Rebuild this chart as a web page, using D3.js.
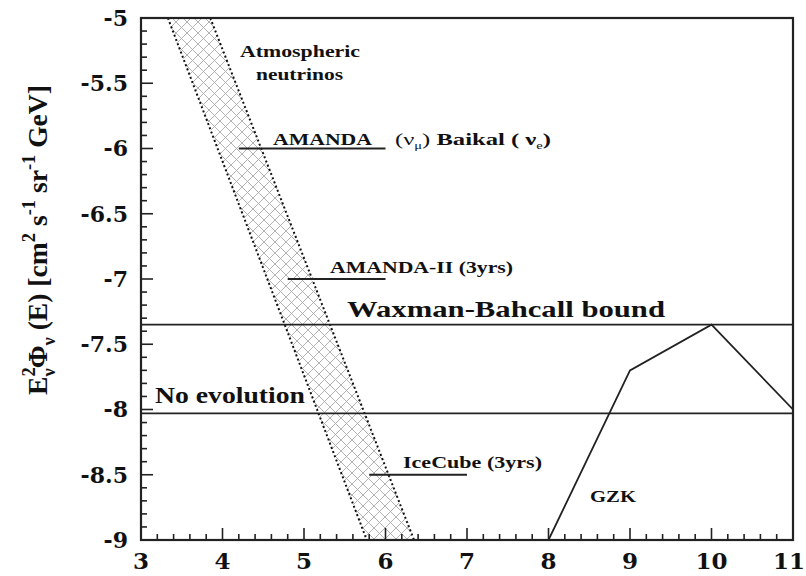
<!DOCTYPE html>
<html><head><meta charset="utf-8">
<script src="https://cdn.jsdelivr.net/npm/d3@7"></script>
<style>body{margin:0;background:#fff}svg{display:block}</style>
</head><body>
<script>
const xTicks = [3,4,5,6,7,8,9,10,11];
const yTicks = [-5,-5.5,-6,-6.5,-7,-7.5,-8,-8.5,-9];
// Atmospheric neutrino band edges [x, y]
const bandLeft = [[3.33,-5],[5.77,-9]];
const bandRight = [[3.85,-5],[6.35,-9]];
// horizontal experimental limits
const limitNames = ["AMANDA", "AMANDA-II (3yrs)", "IceCube (3yrs)"];
const limitX1 = [4.2, 4.8, 5.8];
const limitX2 = [6.0, 6.0, 7.0];
const limitY = [-6, -7, -8.5];
const wbBound = -7.35;
const noEvolution = -8.03;
const gzkX = [8, 9, 10, 11];
const gzkY = [-9, -7.7, -7.35, -8];

const SERIF = "'Liberation Serif','Times New Roman',serif";
const TICKFONT = "'DejaVu Serif',serif";
const W=806,H=576;
const m={l:141,r:13,t:18,b:36};
const svg=d3.select("body").append("svg").attr("width",W).attr("height",H)
  .attr("font-family",SERIF).attr("font-weight","bold");
const x=d3.scaleLinear().domain([3,11]).range([m.l,W-m.r]);
const y=d3.scaleLinear().domain([-9,-5]).range([H-m.b,m.t]);

// hatch pattern
const defs=svg.append("defs");
const pat=defs.append("pattern").attr("id","hatch").attr("patternUnits","userSpaceOnUse")
  .attr("width",11).attr("height",11);
pat.append("path").attr("d","M0,0L11,11M-1,10L1,12M10,-1L12,1").attr("stroke","#aaa").attr("stroke-width",0.9);
pat.append("path").attr("d","M11,0L0,11M-1,1L1,-1M10,12L12,10").attr("stroke","#aaa").attr("stroke-width",0.9);

const clip=defs.append("clipPath").attr("id","clip");
clip.append("rect").attr("x",x(3)).attr("y",y(-5)).attr("width",x(11)-x(3)).attr("height",y(-9)-y(-5));

const line=d3.line().x(d=>x(d[0])).y(d=>y(d[1]));
const g=svg.append("g").attr("clip-path","url(#clip)");
const poly=bandLeft.concat(bandRight.slice().reverse());
g.append("path").attr("d",line(poly)+"Z").attr("fill","url(#hatch)").attr("stroke","none");
[bandLeft,bandRight].forEach(b=>{
  g.append("path").attr("d",line(b))
   .attr("stroke","#111").attr("stroke-width",2).attr("stroke-dasharray","2,2.5").attr("fill","none");
});

// horizontal lines
[wbBound,noEvolution].forEach(v=>{
  g.append("line").attr("x1",x(3)).attr("x2",x(11)).attr("y1",y(v)).attr("y2",y(v))
   .attr("stroke","#222").attr("stroke-width",1.8);
});
limitY.forEach((v,i)=>{
  g.append("line").attr("x1",x(limitX1[i])).attr("x2",x(limitX2[i])).attr("y1",y(v)).attr("y2",y(v))
   .attr("stroke","#222").attr("stroke-width",1.8);
});
// GZK
g.append("path").attr("d",line(gzkX.map((v,i)=>[v,gzkY[i]])))
  .attr("fill","none").attr("stroke","#222").attr("stroke-width",1.8);

// inward ticks from the scales
const minorX=d3.range(0,41).map(i=>3+i*0.2);
const minorY=d3.range(0,41).map(i=>-9+i*0.1);
const isMajX=v=>Math.abs(v-Math.round(v))<1e-6;
const isMajY=v=>Math.abs(v*2-Math.round(v*2))<1e-6;
const tk=svg.append("g").attr("stroke","#222").attr("stroke-width",1.6);
tk.selectAll("line.xt").data(minorX).join("line").attr("class","xt")
  .attr("x1",d=>x(d)).attr("x2",d=>x(d)).attr("y1",y(-9)).attr("y2",d=>y(-9)-(isMajX(d)?12:6));
tk.selectAll("line.yt").data(minorY).join("line").attr("class","yt")
  .attr("y1",d=>y(d)).attr("y2",d=>y(d)).attr("x1",x(3)).attr("x2",d=>x(3)+(isMajY(d)?12:6));

// tick labels
svg.append("g").selectAll("text").data(xTicks).join("text")
  .attr("x",(d,i)=>i===xTicks.length-1?W-1:x(d)).attr("y",569)
  .attr("text-anchor",(d,i)=>i===xTicks.length-1?"end":"middle")
  .attr("font-size",23).attr("font-family",TICKFONT).attr("fill","#111").text(d=>d);
svg.append("g").selectAll("text").data(yTicks).join("text")
  .attr("x",x(3)-13).attr("y",d=>y(d)).attr("dy","0.36em").attr("text-anchor","end")
  .attr("font-size",22).attr("font-family",TICKFONT).attr("fill","#111").text(d=>String(d));

// frame
svg.append("rect").attr("x",x(3)).attr("y",y(-5)).attr("width",x(11)-x(3)).attr("height",y(-9)-y(-5))
  .attr("fill","none").attr("stroke","#222").attr("stroke-width",2.2);

// labels (stretched serif like the original)
function txt(px,py,s,size,len){
  return svg.append("text").attr("x",px).attr("y",py).attr("font-size",size).attr("fill","#111")
   .attr("textLength",len).attr("lengthAdjust","spacingAndGlyphs").text(s);
}
txt(240,57,"Atmospheric",17,120);
txt(256,80,"neutrinos",17,87);
txt(273,145,limitNames[0],17,99);
const t1=svg.append("text").attr("x",395).attr("y",145).attr("font-size",17).attr("fill","#111")
  .attr("textLength",156).attr("lengthAdjust","spacingAndGlyphs");
t1.append("tspan").text("(ν").attr("font-weight","normal");
t1.append("tspan").text("μ").attr("font-size",10).attr("dy",4).attr("font-weight","normal");
t1.append("tspan").text(")").attr("dy",-4).attr("font-weight","normal");
t1.append("tspan").text(" Baikal (  ν");
t1.append("tspan").text("e").attr("font-size",10).attr("dy",4).attr("font-weight","normal");
t1.append("tspan").text(")").attr("dy",-4);
txt(330,273,limitNames[1],17,183);
txt(347,317,"Waxman-Bahcall bound",23,318);
txt(155,403,"No evolution",23,150);
txt(403,468,limitNames[2],17,139);
txt(590,502,"GZK",16,46);

// y label
const yl=svg.append("text").attr("transform","translate(47,240) rotate(-90)")
  .attr("text-anchor","middle").attr("font-size",27).attr("fill","#111")
  .attr("textLength",310).attr("lengthAdjust","spacingAndGlyphs");
yl.append("tspan").text("E");
yl.append("tspan").text("2").attr("font-size",18).attr("dy",-12);
yl.append("tspan").text("ν").attr("font-size",18).attr("dx",-9).attr("dy",20);
yl.append("tspan").text("Φ").attr("dy",-8);
yl.append("tspan").text("ν").attr("font-size",18).attr("dy",8);
yl.append("tspan").text(" (E) [cm").attr("dy",-8);
yl.append("tspan").text("2").attr("font-size",18).attr("dy",-12);
yl.append("tspan").text(" s").attr("dy",12);
yl.append("tspan").text("-1").attr("font-size",18).attr("dy",-12);
yl.append("tspan").text(" sr").attr("dy",12);
yl.append("tspan").text("-1").attr("font-size",18).attr("dy",-12);
yl.append("tspan").text(" GeV]").attr("dy",12);
</script>
</body></html>
